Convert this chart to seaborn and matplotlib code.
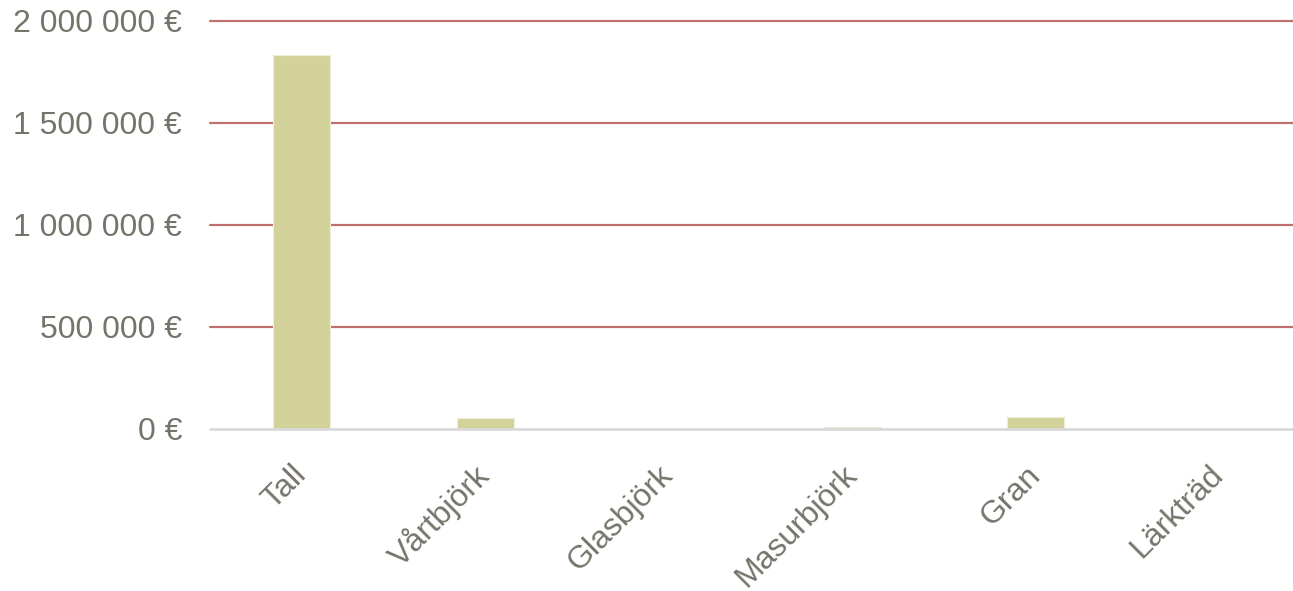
import numpy as np
import pandas as pd
import matplotlib
matplotlib.use('Agg')
import matplotlib.pyplot as plt
import seaborn as sns
from matplotlib.ticker import FuncFormatter

# Data
tradslag = ['Tall', 'Vårtbjörk', 'Glasbjörk', 'Masurbjörk', 'Gran', 'Lärkträd']
varde = [1835000, 54000, 0, 8000, 59000, 0]

df = pd.DataFrame({'Trädslag': tradslag, 'Värde': varde})

sns.set_style('white')
plt.rcParams['font.family'] = ['Liberation Sans', 'DejaVu Sans']

text_color = '#76746a'

fig = plt.figure(figsize=(12.93, 5.91), dpi=100)
ax = fig.add_axes([210 / 1293, 1 - 429 / 591, (1311 - 210) / 1293, 408 / 591])

sns.barplot(data=df, x='Trädslag', y='Värde', color='#d3d29b', width=0.31,
            edgecolor='#eeedd8', linewidth=0.8, saturation=1, ax=ax)

ax.set_ylim(0, 2000000)
ax.set_xlim(-0.5, 5.5)
ax.set_yticks([0, 500000, 1000000, 1500000, 2000000])
ax.yaxis.set_major_formatter(FuncFormatter(
    lambda v, p: f'{int(v):,} €'.replace(',', ' ')))

# rutnät
for y in [500000, 1000000, 1500000, 2000000]:
    ax.axhline(y, color='#c0706b', lw=1.6, zorder=0, clip_on=False)
ax.axhline(0, color='#d9d9d9', lw=2, zorder=1, clip_on=False)

for s in ax.spines.values():
    s.set_visible(False)

ax.set_xlabel('')
ax.set_ylabel('')
ax.tick_params(axis='y', length=0, pad=20, labelsize=23, labelcolor=text_color)
ax.tick_params(axis='x', length=0, pad=30, labelsize=23, labelcolor=text_color)
plt.setp(ax.get_xticklabels(), rotation=45, ha='right', va='center',
         rotation_mode='anchor')

fig.savefig('out.png', dpi=100, facecolor='white')
